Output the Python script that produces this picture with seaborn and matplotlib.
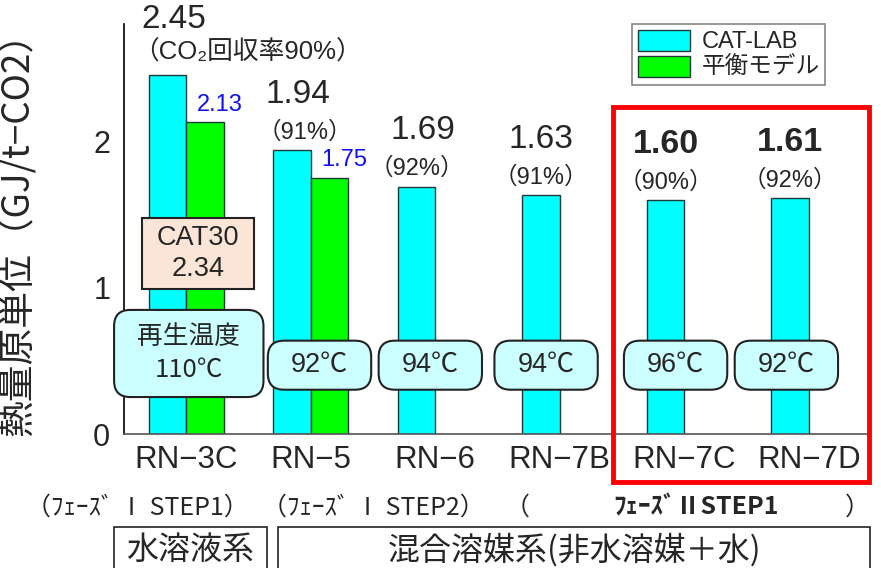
import numpy as np
import pandas as pd
import matplotlib
matplotlib.use('Agg')
import matplotlib.pyplot as plt
from matplotlib.patches import Patch, Rectangle, FancyBboxPatch
import seaborn as sns

# data
samples = ['RN−3C', 'RN−5', 'RN−6', 'RN−7B', 'RN−7C', 'RN−7D']
series = ['CAT-LAB', '平衡モデル']
cat_lab = [2.45, 1.94, 1.69, 1.63, 1.60, 1.61]
eq_model = [2.13, 1.75, np.nan, np.nan, np.nan, np.nan]
recovery = ['（CO₂回収率90%）', '（91%）', '（92%）', '（91%）', '（90%）', '（92%）']
temps = ['再生温度\n110℃', '92℃', '94℃', '94℃', '96℃', '92℃']
cat30_value = 2.34
phases = ['（ﾌｪｰｽﾞ Ⅰ STEP1）', '（ﾌｪｰｽﾞ Ⅰ STEP2）', 'ﾌｪｰｽﾞⅡSTEP1']
systems = ['水溶液系', '混合溶媒系(非水溶媒＋水)']

df = pd.DataFrame({
    'sample': samples * 2,
    'series': [series[0]] * len(samples) + [series[1]] * len(samples),
    'value': cat_lab + eq_model,
}).dropna()

sns.set_style('white')
plt.rcParams['font.family'] = ['Liberation Sans', 'Noto Sans CJK JP', 'DejaVu Sans']
jp = ['Noto Sans CJK JP', 'DejaVu Sans']

CYAN = '#00FFFF'
GREEN = '#00FF00'

fig = plt.figure(figsize=(8.81, 5.68), dpi=100)
ax = fig.add_axes([0.1408, 0.2359, 0.8479, 0.7218])

sns.barplot(data=df, x='sample', y='value', hue='series', order=samples,
            hue_order=series, palette=[CYAN, GREEN], width=0.6, saturation=1,
            edgecolor='#203838', linewidth=1.0, errorbar=None, legend=False, ax=ax)

ax.set_xlim(-0.5, len(samples) - 0.5)
ax.set_ylim(0, 2.8)
ax.set_yticks([0, 1, 2])
ax.set_yticks(np.arange(0, 2.81, 0.2), minor=True)
ax.set_xticks(np.arange(-0.5, len(samples), 1.0), minor=True)
ax.tick_params(axis='y', which='both', direction='in', length=7, width=1,
               labelsize=22, pad=10, color='black')
ax.tick_params(axis='x', which='major', length=0, labelsize=22.5, pad=8)
ax.tick_params(axis='x', which='minor', direction='in', length=3, color='#888888')
ax.set_xlabel('')
ax.set_ylabel('熱量原単位（GJ/t−CO2）', fontsize=26.5,
              family=['Noto Sans CJK JP', 'Liberation Sans'])
ax.yaxis.set_label_coords(-0.115, 0.51)
sns.despine(ax=ax, top=True, right=True)
ax.spines['left'].set_color('black')
ax.spines['left'].set_linewidth(1.2)
ax.spines['bottom'].set_color('#555555')
ax.spines['bottom'].set_linewidth(1.2)

# value labels
for i, v in enumerate(cat_lab):
    xc = i - 0.15
    bold = 'bold' if i >= 4 else 'normal'
    ax.text(xc + (0.05 if i < 3 else 0.0), v + 0.38, f'{v:.2f}', ha='center', va='center',
            fontsize=24.5 if i >= 4 else 24, fontweight=bold, clip_on=False)
    if i == 0:
        ax.text(xc - 0.28, v + 0.16, recovery[i], ha='left', va='center', fontsize=18.5,
                clip_on=False)
    else:
        ax.text(xc + (0.1 if i == 1 else 0.0), v + 0.12, recovery[i], ha='center',
                va='center', fontsize=17)

for i, v in enumerate(eq_model):
    if not np.isnan(v):
        ax.text(i + 0.27, v + 0.12, f'{v:.2f}', ha='center', va='center',
                fontsize=17, color='#1010F0')

# regeneration temperature boxes
box_dx = [0.02, 0.07, -0.04, -0.11, -0.07, -0.18]
asp = 124.5 / 146.3
for i, t in enumerate(temps):
    cx = i + box_dx[i]
    if i == 0:
        w, h, cy = 1.20, 0.595, 0.55
    else:
        w, h, cy = 0.83, 0.335, 0.47
    box = FancyBboxPatch((cx - w / 2, cy - h / 2), w, h,
                         boxstyle='round,pad=0,rounding_size=0.13',
                         mutation_aspect=asp, facecolor='#CCFFFF',
                         edgecolor='#222222', linewidth=1.5, zorder=5, clip_on=False)
    ax.add_patch(box)
    ax.text(cx, cy, t, ha='center', va='center', fontsize=18.5 if i == 0 else 19.5,
            linespacing=1.35, zorder=6, family=jp if i == 0 else None)

# CAT30 box
ax.add_patch(Rectangle((0.094 - 0.45, 0.99), 0.90, 0.486, facecolor='#FBE5D6',
                       edgecolor='#222222', linewidth=1.5, zorder=5))
ax.text(0.094, 1.235, f'CAT30\n{cat30_value:.2f}', ha='center', va='center',
        fontsize=19.5, linespacing=1.25, zorder=6)

# legend
handles = [Patch(facecolor=CYAN, edgecolor='#203838', label=series[0]),
           Patch(facecolor=GREEN, edgecolor='#203838', label=series[1])]
leg = fig.legend(handles=handles, loc='upper left', bbox_to_anchor=(0.717, 0.958),
                 fontsize=17, frameon=True, fancybox=False, handlelength=2.2,
                 handleheight=1.0, labelspacing=0.1, borderpad=0.25,
                 handletextpad=0.5, borderaxespad=0)
leg.get_frame().set_edgecolor('#666666')
leg.get_frame().set_linewidth(1.2)

# red highlight frame around phase II samples
ax.add_patch(Rectangle((3.43, -0.33), 2.05, 2.565, fill=False, edgecolor='#FF0000',
                       linewidth=3.5, clip_on=False, zorder=7))

# phase labels below the axis
fig.text(0.156, 0.107, phases[0], ha='center', va='center', fontsize=18, family=jp)
fig.text(0.424, 0.107, phases[1], ha='center', va='center', fontsize=18, family=jp)
fig.text(0.587, 0.107, '（', ha='center', va='center', fontsize=18, family=jp)
fig.text(0.790, 0.107, phases[2], ha='center', va='center', fontsize=18,
         fontweight='bold', family=jp)
fig.text(0.973, 0.107, '）', ha='center', va='center', fontsize=18, family=jp)

# solvent system boxes
fig.patches.append(Rectangle((0.129, -0.05), 0.174, 0.122, transform=fig.transFigure,
                             fill=False, edgecolor='#222222', linewidth=1.2))
fig.patches.append(Rectangle((0.3155, -0.05), 0.672, 0.122, transform=fig.transFigure,
                             fill=False, edgecolor='#222222', linewidth=1.2))
fig.text(0.216, 0.032, systems[0], ha='center', va='center', fontsize=23, family=jp)
fig.text(0.652, 0.032, systems[1], ha='center', va='center', fontsize=23, family=jp)

fig.savefig('out.png', dpi=100)
